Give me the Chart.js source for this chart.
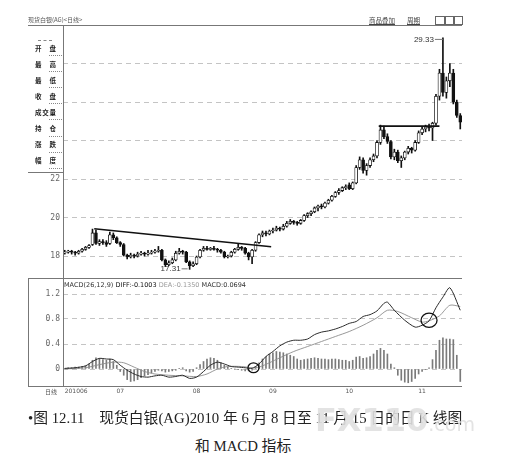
<!DOCTYPE html>
<html>
<head>
<meta charset="utf-8">
<title>现货白银(AG) 日K线与MACD</title>
<script src="https://cdn.jsdelivr.net/npm/chart.js@4.4.1/dist/chart.umd.min.js"></script>
<style>
  html, body { margin: 0; padding: 0; background: #fff; }
  body { width: 512px; height: 468px; position: relative; overflow: hidden; font-family: "Noto Sans CJK SC", "DejaVu Sans", sans-serif; }
  canvas { position: absolute; left: 0; }
  #price { top: 0; }
  #macd { top: 278px; }
  .txt { position: absolute; white-space: nowrap; line-height: 1; }
  .info { position: absolute; left: 35px; width: 21px; font-size: 6.5px; font-weight: bold; color: #222; line-height: 1; display: flex; justify-content: space-between; }
  .dots { position: absolute; left: 49px; width: 13px; height: 0; border-top: 1px dotted #888; }
  .cap { position: absolute; white-space: nowrap; font-family: "Liberation Serif", "Noto Sans CJK SC", serif; font-size: 14.8px; color: #222; line-height: 1; }
</style>
</head>
<body>
<canvas id="price" width="512" height="280"></canvas>
<canvas id="macd" width="512" height="122"></canvas>

<div class="txt" style="left:28px;top:17px;font-size:6px;color:#555">现货白银(AG)&lt;日线&gt;</div>
<div class="txt" style="left:369px;top:17px;font-size:6.5px;color:#444;text-decoration:underline">商品叠加</div>
<div class="txt" style="left:407px;top:17px;font-size:6.5px;color:#444;text-decoration:underline">周期</div>
<div style="position:absolute;left:435px;top:16px;width:8px;height:7px;border:1px solid #666"></div>
<div style="position:absolute;left:445px;top:16px;width:7px;height:7px;border:1px solid #666"></div>
<div style="position:absolute;left:454px;top:16px;width:7px;height:7px;border:1px solid #666"></div>

<div id="info"></div>

<div class="txt" style="left:64px;top:282px;font-size:6.5px;font-family:'DejaVu Sans',sans-serif">
  <span style="color:#333">MACD(26,12,9)</span>
  <span style="color:#111">DIFF:-0.1003</span>
  <span style="color:#999">DEA:-0.1350</span>
  <span style="color:#333">MACD:0.0694</span>
</div>
<div class="txt" style="left:45px;top:389px;font-size:6px;color:#555">日线</div>

<div class="cap" style="left:28px;top:411px">•图 12.11&nbsp;&nbsp;&nbsp;&nbsp;现货白银(AG)2010 年 6 月 8 日至 11 月 15 日的日 K 线图</div>
<div class="cap" style="left:195px;top:439px">和 MACD 指标</div>
<div class="txt" style="left:315px;top:404px;font-family:'DejaVu Sans',sans-serif;font-weight:bold;font-size:32px;color:rgba(224,224,224,0.9)">FX110<span style="font-size:19px;font-weight:normal">.com</span></div>

<script>
// 2010-06-08 .. 2010-11-15, one entry per trading day
const opens = [
  18.15, 18.2, 18.25, 18.2, 18.15, 18.25, 18.35, 18.45, 18.6, 19.2,
  18.65, 18.75, 18.7, 18.65, 19.1, 18.95, 18.7, 18.6, 18.05, 17.95,
  18.05, 18.0, 18.1, 18.15, 18.1, 18.15, 18.2, 18.25, 18.3, 17.8,
  17.55, 17.65, 17.8, 18.15, 18.25, 18.2, 17.7, 17.5, 17.6, 17.95,
  18.3, 18.4, 18.35, 18.4, 18.35, 18.3, 18.2, 17.95, 18.0, 18.2,
  18.35, 18.45, 18.4, 18.15, 17.95, 18.3, 18.7, 19.1, 19.2, 19.15,
  19.3, 19.35, 19.45, 19.4, 19.55, 19.7, 19.8, 19.75, 19.7, 19.85,
  20.1, 20.2, 20.3, 20.5, 20.6, 20.55, 20.75, 20.9, 21.1, 21.3,
  21.4, 21.55, 21.7, 21.5, 21.8, 22.6, 23.0, 22.45, 22.7, 23.0,
  23.2, 23.9, 24.55, 24.2, 23.95, 23.15, 23.4, 22.95, 23.1, 23.4,
  23.6, 23.5, 23.9, 24.4, 24.6, 24.75, 24.65, 24.9, 26.3, 27.5,
  26.5, 27.1, 27.5, 26.0, 25.3
];
const highs = [
  18.3, 18.3, 18.3, 18.25, 18.3, 18.4, 18.5, 18.6, 19.4, 19.35,
  18.85, 18.85, 18.8, 19.25, 19.2, 19.0, 18.75, 18.65, 18.1, 18.15,
  18.1, 18.2, 18.25, 18.2, 18.3, 18.3, 18.35, 18.5, 18.35, 17.85,
  17.75, 17.9, 18.25, 18.4, 18.3, 18.25, 17.75, 17.7, 18.0, 18.35,
  18.5, 18.5, 18.45, 18.5, 18.4, 18.35, 18.25, 18.05, 18.25, 18.4,
  18.65, 18.5, 18.45, 18.2, 18.35, 18.75, 19.15, 19.3, 19.3, 19.35,
  19.45, 19.55, 19.5, 19.65, 19.8, 19.9, 19.85, 19.8, 19.9, 20.15,
  20.25, 20.35, 20.55, 20.65, 20.7, 20.8, 20.95, 21.15, 21.35, 21.5,
  21.6, 21.7, 21.8, 21.85, 22.7, 23.15, 23.1, 22.8, 23.1, 23.3,
  24.0, 24.8, 24.75, 24.35, 24.0, 23.55, 23.5, 23.2, 23.45, 23.7,
  23.65, 24.0, 24.5, 24.7, 24.8, 24.85, 24.95, 26.4, 27.7, 29.33,
  27.3, 28.0, 27.7, 26.1, 25.4
];
const lows = [
  18.1, 18.15, 18.1, 18.05, 18.1, 18.2, 18.3, 18.4, 18.55, 18.6,
  18.55, 18.6, 18.5, 18.6, 18.85, 18.65, 18.5, 18.0, 17.85, 17.9,
  17.9, 17.95, 18.05, 18.0, 18.05, 18.1, 18.15, 18.2, 17.75, 17.45,
  17.5, 17.6, 17.75, 18.1, 18.1, 17.65, 17.31, 17.45, 17.55, 17.9,
  18.25, 18.3, 18.3, 18.3, 18.2, 18.15, 17.9, 17.9, 17.95, 18.15,
  18.3, 18.3, 18.1, 17.8, 17.6, 18.25, 18.65, 19.0, 19.05, 19.1,
  19.2, 19.3, 19.3, 19.35, 19.5, 19.65, 19.65, 19.6, 19.65, 19.8,
  20.0, 20.1, 20.25, 20.35, 20.45, 20.5, 20.7, 20.85, 21.05, 21.2,
  21.35, 21.45, 21.45, 21.45, 21.75, 22.5, 22.3, 22.2, 22.6, 22.9,
  23.1, 23.8, 24.1, 23.85, 23.05, 23.0, 22.85, 22.6, 23.0, 23.3,
  23.35, 23.45, 23.85, 24.3, 24.45, 24.5, 24.0, 24.8, 26.1, 26.3,
  26.2, 26.8, 25.9, 25.2, 24.6
];
const closes = [
  18.2, 18.25, 18.2, 18.15, 18.25, 18.35, 18.45, 18.55, 19.2, 18.65,
  18.75, 18.7, 18.6, 19.1, 18.95, 18.7, 18.6, 18.05, 17.95, 18.05,
  18.0, 18.1, 18.15, 18.1, 18.15, 18.2, 18.25, 18.3, 17.8, 17.55,
  17.65, 17.8, 18.15, 18.25, 18.2, 17.7, 17.5, 17.6, 17.95, 18.3,
  18.4, 18.35, 18.4, 18.35, 18.3, 18.2, 17.95, 18.0, 18.2, 18.35,
  18.45, 18.4, 18.15, 17.95, 18.3, 18.7, 19.1, 19.2, 19.15, 19.3,
  19.35, 19.45, 19.4, 19.55, 19.7, 19.8, 19.75, 19.7, 19.85, 20.1,
  20.2, 20.3, 20.5, 20.6, 20.55, 20.75, 20.9, 21.1, 21.3, 21.4,
  21.55, 21.6, 21.5, 21.8, 22.6, 23.0, 22.45, 22.7, 23.0, 23.2,
  23.9, 24.55, 24.2, 23.95, 23.15, 23.4, 22.95, 23.1, 23.4, 23.6,
  23.5, 23.9, 24.4, 24.6, 24.7, 24.65, 24.9, 26.3, 27.5, 26.5,
  27.1, 27.5, 26.0, 25.3, 24.95
];

// month ticks (trading-day index) and their labels
const monthTicks = [0, 16, 38, 60, 82, 103];
const monthLabels = ['201006', '07', '08', '09', '10', '11'];
const priceTicks = [18, 20, 22, 24, 26, 28];
const macdTicks = [0, 0.4, 0.8, 1.2];

// hand drawn lines on the K chart
const trendIdx = [8.5, 59.5];
const trendVals = [19.42, 18.48];
const levelIdx = [90.5, 108];
const levelVals = [24.75, 24.75];

// MACD lines, read at key days
const difIdx = [0, 3, 6, 8, 10, 12, 14, 16, 18, 20, 22, 24, 26, 28, 30, 32, 34, 36, 38, 40,
  42, 44, 46, 48, 50, 52, 54, 56, 58, 60, 62, 64, 66, 68, 70, 72, 74, 76, 78, 80,
  82, 84, 86, 88, 90, 92, 93, 95, 98, 101, 103, 105, 107, 109, 111, 114];
const difVals = [0.01, 0.02, 0.05, 0.12, 0.17, 0.16, 0.15, 0.06, -0.02, -0.08,
  -0.12, -0.13, -0.11, -0.1, -0.13, -0.12, -0.1, -0.15, -0.13, -0.04,
  0.06, 0.11, 0.08, 0.04, 0.03, 0.02, 0.01, 0.08, 0.2, 0.28,
  0.37, 0.43, 0.46, 0.46, 0.48, 0.55, 0.59, 0.61, 0.64, 0.68,
  0.73, 0.76, 0.84, 0.87, 0.93, 1.05, 1.07, 0.94, 0.78, 0.67,
  0.7, 0.77, 0.98, 1.15, 1.3, 0.94];
const deaIdx = [0, 6, 10, 14, 17, 20, 23, 26, 30, 34, 38, 41, 44, 47, 51, 54, 56, 59, 62, 66,
  70, 74, 78, 82, 86, 90, 93, 96, 100, 103, 105, 108, 111, 114];
const deaVals = [0.0, 0.02, 0.07, 0.11, 0.1, 0.03, -0.04, -0.08, -0.1, -0.11,
  -0.12, -0.08, 0.0, 0.04, 0.04, 0.02, 0.03, 0.1, 0.18, 0.28,
  0.36, 0.44, 0.52, 0.6, 0.7, 0.82, 0.94, 0.92, 0.82, 0.75,
  0.77, 0.85, 1.02, 1.0];
const macdBars = [
  0.01, 0.02, 0.02, 0.03, 0.03, 0.04, 0.05, 0.08, 0.14, 0.18,
  0.17, 0.15, 0.14, 0.16, 0.12, 0.06, -0.04, -0.1, -0.17, -0.2,
  -0.19, -0.17, -0.14, -0.11, -0.09, -0.06, -0.04, -0.02, -0.03, -0.05,
  -0.04, -0.03, -0.02, 0.01, 0.02, -0.03, -0.05, -0.04, 0.02, 0.07,
  0.12, 0.16, 0.18, 0.17, 0.14, 0.1, 0.06, 0.03, 0.01, 0.0,
  -0.01, -0.02, -0.03, -0.03, -0.02, 0.04, 0.1, 0.16, 0.2, 0.24,
  0.26, 0.28, 0.27, 0.26, 0.24, 0.22, 0.2, 0.16, 0.14, 0.15,
  0.16, 0.17, 0.18, 0.17, 0.16, 0.16, 0.15, 0.16, 0.16, 0.15,
  0.14, 0.14, 0.12, 0.14, 0.19, 0.2, 0.17, 0.18, 0.2, 0.24,
  0.3, 0.33, 0.3, 0.24, 0.08, 0.02, -0.1, -0.18, -0.21, -0.22,
  -0.2, -0.15, -0.08, -0.04, -0.01, 0.02, 0.15, 0.3, 0.46, 0.5,
  0.48, 0.48, 0.47, 0.22, -0.2
];
// golden crosses circled in the book
const crossIdx = [54.4, 105];
const crossVals = [0.02, 0.78];

const infoLabels = ['开盘', '最高', '最低', '收盘', '成交量', '持仓', '涨跌', '幅度'];

// left info panel
const info = document.getElementById('info');
infoLabels.forEach((lab, k) => {
  const y = 48 + k * 16.1;
  const d = document.createElement('div');
  d.className = 'info';
  d.style.top = (y - 3.5) + 'px';
  lab.split('').forEach((ch) => {
    const s = document.createElement('span');
    s.textContent = ch;
    d.appendChild(s);
  });
  info.appendChild(d);
  const dots = document.createElement('div');
  dots.className = 'dots';
  dots.style.top = (y + 7) + 'px';
  info.appendChild(dots);
});
const topDash = document.createElement('div');
topDash.className = 'dots';
topDash.style.cssText = 'left:38px;width:14px;top:40px;border-top:1px dashed #888';
info.appendChild(topDash);

Chart.defaults.font.family = '"DejaVu Sans", sans-serif';
Chart.defaults.animation = false;

// keep the plot areas exactly where the book has them
function fixY(s) {
  s.width = 63;
  s.paddingTop = 0;
  s.paddingBottom = 0;
}

const priceFrame = {
  id: 'priceFrame',
  afterDraw(chart) {
    const { ctx, chartArea: a } = chart;
    ctx.save();
    ctx.strokeStyle = '#777';
    ctx.lineWidth = 1;
    ctx.beginPath();
    ctx.moveTo(28, a.top + 0.5); ctx.lineTo(a.right, a.top + 0.5);
    ctx.moveTo(28, a.bottom + 0.5); ctx.lineTo(a.right, a.bottom + 0.5);
    ctx.moveTo(a.left + 0.5, a.top); ctx.lineTo(a.left + 0.5, a.bottom);
    ctx.moveTo(28, 172.5); ctx.lineTo(a.left, 172.5);
    ctx.stroke();

    // extreme price notes
    const { x, y } = chart.scales;
    ctx.fillStyle = '#333';
    ctx.font = '8px "Liberation Sans", sans-serif';
    ctx.textAlign = 'right';
    ctx.textBaseline = 'middle';
    const lo = Math.min(...lows), li = lows.indexOf(lo);
    let px = x.getPixelForValue(li), py = y.getPixelForValue(lo);
    ctx.fillText(lo.toFixed(2), px - 9, py - 1);
    ctx.beginPath(); ctx.moveTo(px - 8, py - 0.5); ctx.lineTo(px - 2, py - 0.5); ctx.stroke();
    const hi = Math.max(...highs), hiI = highs.indexOf(hi);
    px = x.getPixelForValue(hiI); py = y.getPixelForValue(hi);
    ctx.fillText(hi.toFixed(2), px - 9, py + 2);
    ctx.beginPath(); ctx.moveTo(px - 8, py + 1.5); ctx.lineTo(px, py + 1.5); ctx.stroke();
    ctx.restore();
  }
};

const macdFrame = {
  id: 'macdFrame',
  afterDraw(chart) {
    const { ctx, chartArea: a, scales: { x, y } } = chart;
    ctx.save();
    ctx.strokeStyle = '#777';
    ctx.lineWidth = 1;
    ctx.beginPath();
    ctx.moveTo(28, a.top + 0.5); ctx.lineTo(a.right, a.top + 0.5);
    ctx.moveTo(28, a.bottom + 0.5); ctx.lineTo(a.right, a.bottom + 0.5);
    ctx.moveTo(28.5, a.top); ctx.lineTo(28.5, a.bottom);
    ctx.moveTo(a.left + 0.5, a.top); ctx.lineTo(a.left + 0.5, a.bottom);
    ctx.stroke();

    ctx.strokeStyle = '#111';
    ctx.lineWidth = 1.3;
    crossIdx.forEach((ci, k) => {
      const r = k === 0 ? 5.5 : 8;
      ctx.beginPath();
      ctx.ellipse(x.getPixelForValue(ci), y.getPixelForValue(crossVals[k]), r, r * 0.9, 0, 0, Math.PI * 2);
      ctx.stroke();
    });
    ctx.restore();
  }
};

const candleBodies = closes.map((c, i) => ({ x: i, y: [opens[i], c] }));
const candleWicks = closes.map((c, i) => ({ x: i, y: [lows[i], highs[i]] }));
const bodyColors = closes.map((c, i) => (c >= opens[i] ? '#fff' : '#111'));

new Chart(document.getElementById('price'), {
  type: 'bar',
  data: {
    datasets: [
      {
        type: 'line',
        data: trendIdx.map((v, k) => ({ x: v, y: trendVals[k] })),
        borderColor: '#111',
        borderWidth: 1.6,
        pointRadius: 0,
      },
      {
        type: 'line',
        data: levelIdx.map((v, k) => ({ x: v, y: levelVals[k] })),
        borderColor: '#111',
        borderWidth: 1.6,
        pointRadius: 0,
      },
      {
        data: candleBodies,
        backgroundColor: bodyColors,
        borderColor: '#111',
        borderWidth: 0.8,
        borderSkipped: false,
        barThickness: 3,
        minBarLength: 1,
        grouped: false,
      },
      {
        data: candleWicks,
        backgroundColor: '#111',
        barThickness: 1,
        grouped: false,
      },
    ],
  },
  options: {
    responsive: false,
    layout: { padding: { left: 0, right: 50, top: 25, bottom: 2 } },
    plugins: { legend: { display: false }, tooltip: { enabled: false } },
    scales: {
      x: { type: 'linear', min: -0.5, max: 114.5, offset: false, display: false },
      y: {
        min: 16.86,
        max: 30.0,
        afterFit: fixY,
        afterBuildTicks: (s) => { s.ticks = priceTicks.map((v) => ({ value: v })); },
        grid: { color: '#c4c4c4', drawTicks: false },
        border: { display: false, dash: [5, 4] },
        ticks: {
          padding: 3,
          color: '#666',
          font: { size: 8, family: '"DejaVu Sans Mono", monospace' },
          callback: (v) => (v <= 22 ? String(v) : ''),
        },
      },
    },
  },
  plugins: [priceFrame],
});

new Chart(document.getElementById('macd'), {
  type: 'bar',
  data: {
    datasets: [
      {
        type: 'line',
        data: difIdx.map((v, k) => ({ x: v, y: difVals[k] })),
        borderColor: '#2a2a2a',
        borderWidth: 1,
        pointRadius: 0,
        tension: 0.25,
      },
      {
        type: 'line',
        data: deaIdx.map((v, k) => ({ x: v, y: deaVals[k] })),
        borderColor: '#8c8c8c',
        borderWidth: 0.9,
        pointRadius: 0,
        tension: 0.25,
      },
      {
        data: macdBars.map((v, i) => ({ x: i, y: v })),
        backgroundColor: '#7a7a7a',
        barThickness: 1,
        grouped: false,
      },
    ],
  },
  options: {
    responsive: false,
    layout: { padding: { left: 0, right: 50, top: 0, bottom: 0 } },
    plugins: { legend: { display: false }, tooltip: { enabled: false } },
    scales: {
      x: {
        type: 'linear',
        min: -0.5,
        max: 114.5,
        offset: false,
        afterFit: (s) => { s.height = 14; s.paddingLeft = 0; s.paddingRight = 0; },
        afterBuildTicks: (s) => { s.ticks = monthTicks.concat([114.5]).map((v) => ({ value: v })); },
        grid: { display: false, drawTicks: false },
        border: { display: false },
        ticks: {
          align: 'inner',
          autoSkip: false,
          maxRotation: 0,
          padding: 2,
          color: '#555',
          font: { size: 6 },
          callback: (v) => {
            const k = monthTicks.indexOf(v);
            return k >= 0 ? monthLabels[k] : '';
          },
        },
      },
      y: {
        min: -0.272,
        max: 1.456,
        afterFit: fixY,
        afterBuildTicks: (s) => { s.ticks = macdTicks.map((v) => ({ value: v })); },
        grid: { color: '#c4c4c4', drawTicks: false },
        border: { display: false, dash: [5, 4] },
        ticks: {
          padding: 3,
          color: '#666',
          font: { size: 8, family: '"DejaVu Sans Mono", monospace' },
          callback: (v) => (v === 0 ? '0' : v.toFixed(1)),
        },
      },
    },
  },
  plugins: [macdFrame],
});
</script>
</body>
</html>
